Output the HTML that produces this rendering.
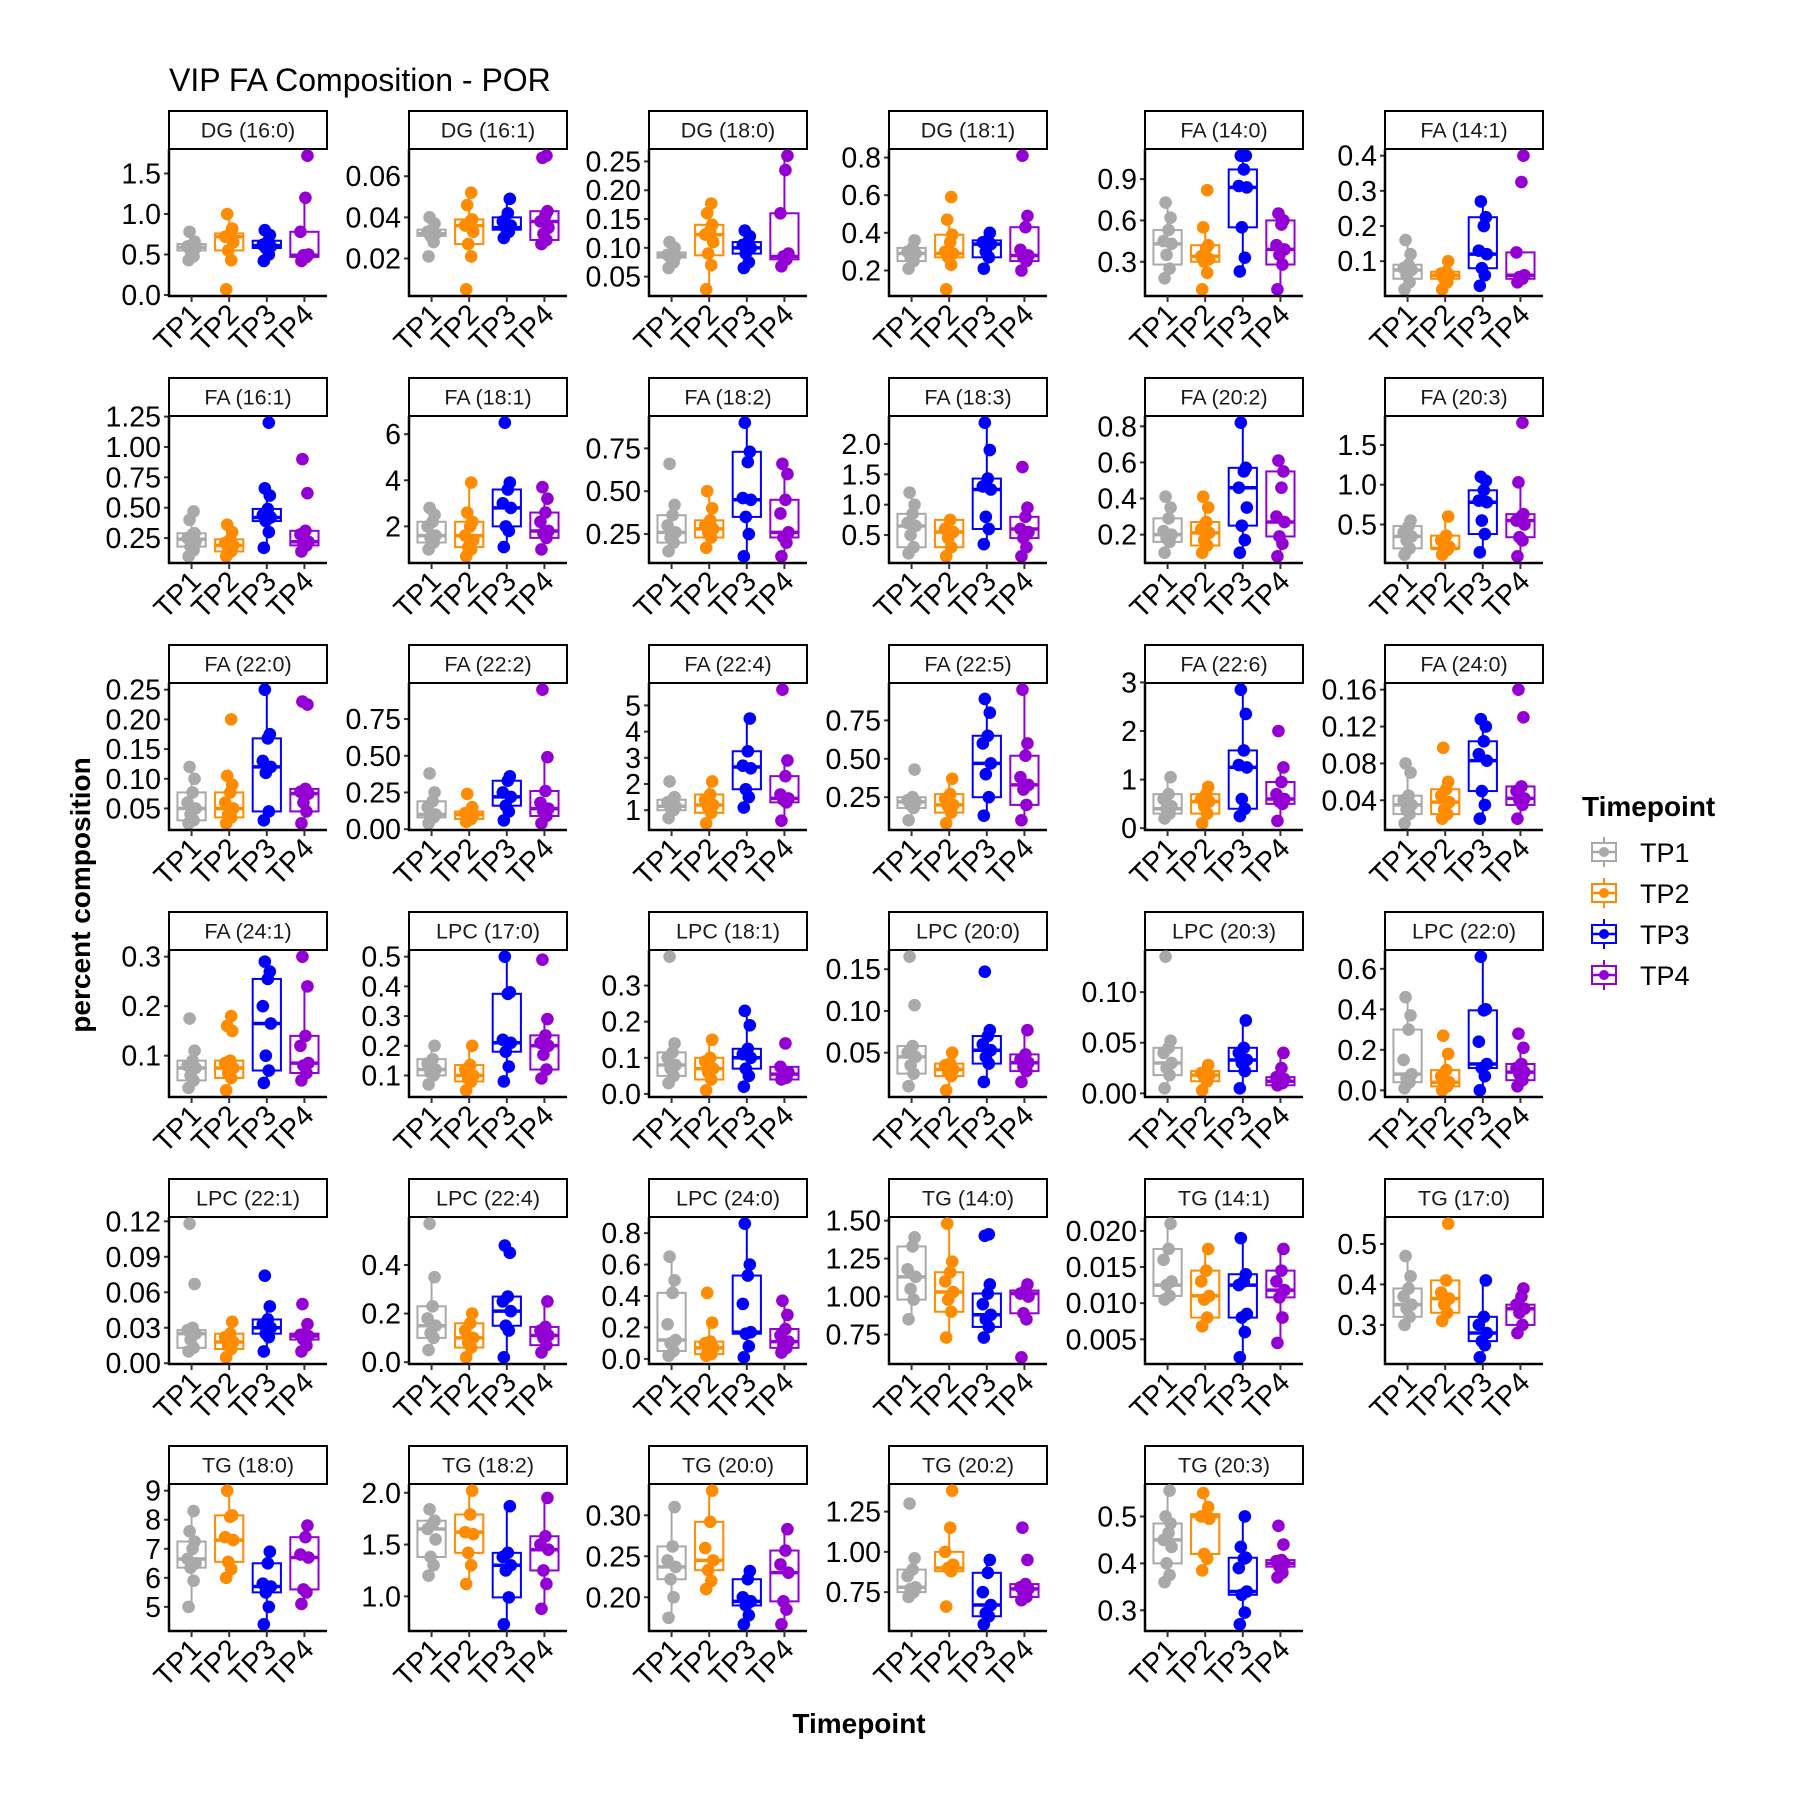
<!DOCTYPE html>
<html><head><meta charset="utf-8">
<style>
html,body{margin:0;padding:0;background:#fff;}
svg text{font-family:"Liberation Sans",Arial,sans-serif;}
</style></head>
<body>
<svg id="chart" width="1800" height="1800" viewBox="0 0 1800 1800" xmlns="http://www.w3.org/2000/svg">
<rect x="0" y="0" width="1800" height="1800" fill="#fff"/>
<text x="169" y="91" font-size="32">VIP FA Composition - POR</text>
<text x="0" y="0" font-size="28" font-weight="bold" text-anchor="middle" transform="translate(90,895) rotate(-90)">percent composition</text>
<text x="859" y="1733" font-size="28" font-weight="bold" text-anchor="middle">Timepoint</text>
<g id="panels"></g>
<g id="legend"></g>
</svg>
<script>
const groups = ["TP1","TP2","TP3","TP4"];
const groupColors = ["#A9A9A9","#FF8C00","#0000FF","#9400D3"];
const panelNames = ["DG (16:0)","DG (16:1)","DG (18:0)","DG (18:1)","FA (14:0)","FA (14:1)",
"FA (16:1)","FA (18:1)","FA (18:2)","FA (18:3)","FA (20:2)","FA (20:3)",
"FA (22:0)","FA (22:2)","FA (22:4)","FA (22:5)","FA (22:6)","FA (24:0)",
"FA (24:1)","LPC (17:0)","LPC (18:1)","LPC (20:0)","LPC (20:3)","LPC (22:0)",
"LPC (22:1)","LPC (22:4)","LPC (24:0)","TG (14:0)","TG (14:1)","TG (17:0)",
"TG (18:0)","TG (18:2)","TG (20:0)","TG (20:2)","TG (20:3)"];
const tickLabels = [
["0.0","0.5","1.0","1.5"],["0.02","0.04","0.06"],["0.05","0.10","0.15","0.20","0.25"],["0.2","0.4","0.6","0.8"],["0.3","0.6","0.9"],["0.1","0.2","0.3","0.4"],
["0.25","0.50","0.75","1.00","1.25"],["2","4","6"],["0.25","0.50","0.75"],["0.5","1.0","1.5","2.0"],["0.2","0.4","0.6","0.8"],["0.5","1.0","1.5"],
["0.05","0.10","0.15","0.20","0.25"],["0.00","0.25","0.50","0.75"],["1","2","3","4","5"],["0.25","0.50","0.75"],["0","1","2","3"],["0.04","0.08","0.12","0.16"],
["0.1","0.2","0.3"],["0.1","0.2","0.3","0.4","0.5"],["0.0","0.1","0.2","0.3"],["0.05","0.10","0.15"],["0.00","0.05","0.10"],["0.0","0.2","0.4","0.6"],
["0.00","0.03","0.06","0.09","0.12"],["0.0","0.2","0.4"],["0.0","0.2","0.4","0.6","0.8"],["0.75","1.00","1.25","1.50"],["0.005","0.010","0.015","0.020"],["0.3","0.4","0.5"],
["5","6","7","8","9"],["1.0","1.5","2.0"],["0.20","0.25","0.30"],["0.75","1.00","1.25"],["0.3","0.4","0.5"]];
// [lower whisker, q1, median, q3, upper whisker] per group
const boxStats = [
[[0.43,0.55,0.59,0.63,0.78],[0.43,0.55,0.72,0.76,1.0],[0.42,0.58,0.61,0.67,0.8],[0.42,0.47,0.49,0.78,1.2]],
[[0.028,0.031,0.032,0.034,0.04],[0.021,0.027,0.036,0.039,0.052],[0.03,0.034,0.035,0.04,0.049],[0.027,0.029,0.038,0.043,0.043]],
[[0.065,0.083,0.087,0.092,0.11],[0.028,0.087,0.123,0.14,0.177],[0.065,0.09,0.1,0.11,0.13],[0.068,0.08,0.085,0.16,0.26]],
[[0.21,0.25,0.29,0.32,0.36],[0.23,0.27,0.29,0.39,0.47],[0.21,0.27,0.34,0.36,0.4],[0.2,0.25,0.28,0.43,0.49]],
[[0.18,0.28,0.43,0.53,0.73],[0.22,0.3,0.34,0.42,0.55],[0.23,0.55,0.84,0.97,1.07],[0.1,0.28,0.39,0.6,0.65]],
[[0.02,0.05,0.075,0.09,0.16],[0.02,0.05,0.06,0.07,0.1],[0.03,0.08,0.12,0.225,0.27],[0.04,0.05,0.06,0.125,0.125]],
[[0.1,0.18,0.24,0.29,0.47],[0.1,0.14,0.19,0.24,0.36],[0.17,0.39,0.42,0.49,0.66],[0.14,0.19,0.22,0.31,0.31]],
[[1.0,1.3,1.6,2.2,2.8],[0.7,1.1,1.6,2.2,3.9],[1.1,2.0,2.8,3.6,3.9],[1.0,1.5,1.8,2.6,3.7]],
[[0.15,0.2,0.26,0.36,0.42],[0.17,0.23,0.28,0.33,0.5],[0.12,0.35,0.45,0.73,0.9],[0.12,0.23,0.26,0.45,0.66]],
[[0.2,0.3,0.65,0.85,1.2],[0.15,0.3,0.55,0.75,0.75],[0.35,0.6,1.25,1.43,2.35],[0.15,0.45,0.6,0.8,0.95]],
[[0.1,0.16,0.2,0.29,0.41],[0.1,0.14,0.21,0.27,0.41],[0.1,0.25,0.46,0.57,0.82],[0.08,0.19,0.27,0.55,0.61]],
[[0.12,0.2,0.35,0.48,0.55],[0.12,0.2,0.2,0.36,0.6],[0.15,0.38,0.78,0.93,1.1],[0.1,0.34,0.55,0.63,1.03]],
[[0.025,0.03,0.05,0.077,0.12],[0.025,0.035,0.05,0.077,0.105],[0.03,0.045,0.12,0.168,0.25],[0.025,0.045,0.075,0.083,0.083]],
[[0.04,0.08,0.1,0.19,0.25],[0.05,0.07,0.1,0.12,0.15],[0.06,0.16,0.22,0.33,0.36],[0.04,0.09,0.14,0.26,0.49]],
[[0.7,1.0,1.15,1.4,1.5],[0.5,0.9,1.2,1.6,2.1],[1.1,1.8,2.65,3.25,4.5],[0.6,1.3,1.45,2.3,2.9]],
[[0.1,0.18,0.22,0.25,0.25],[0.08,0.15,0.2,0.27,0.37],[0.13,0.25,0.47,0.65,0.89],[0.1,0.2,0.33,0.52,0.95]],
[[0.2,0.3,0.4,0.7,1.05],[0.1,0.3,0.55,0.7,0.85],[0.25,0.4,1.25,1.6,2.85],[0.15,0.5,0.6,0.95,1.25]],
[[0.015,0.025,0.035,0.045,0.08],[0.02,0.025,0.038,0.052,0.06],[0.02,0.05,0.083,0.104,0.128],[0.02,0.035,0.042,0.055,0.055]],
[[0.035,0.05,0.075,0.09,0.11],[0.03,0.055,0.075,0.09,0.09],[0.045,0.07,0.165,0.255,0.29],[0.05,0.065,0.085,0.14,0.24]],
[[0.07,0.1,0.12,0.155,0.2],[0.05,0.08,0.1,0.135,0.2],[0.08,0.18,0.21,0.375,0.5],[0.09,0.12,0.2,0.235,0.29]],
[[0.03,0.05,0.08,0.115,0.14],[0.01,0.04,0.07,0.1,0.15],[0.02,0.07,0.1,0.125,0.23],[0.04,0.04,0.055,0.075,0.075]],
[[0.01,0.025,0.045,0.058,0.058],[0.005,0.022,0.03,0.037,0.05],[0.015,0.037,0.053,0.07,0.077],[0.015,0.028,0.038,0.048,0.077]],
[[0.005,0.018,0.03,0.045,0.052],[0.003,0.012,0.018,0.022,0.028],[0.005,0.022,0.033,0.045,0.072],[0.008,0.008,0.012,0.016,0.04]],
[[0.01,0.04,0.08,0.3,0.46],[0.0,0.02,0.04,0.1,0.18],[0.0,0.11,0.13,0.395,0.66],[0.02,0.05,0.09,0.13,0.21]],
[[0.01,0.013,0.025,0.028,0.03],[0.005,0.012,0.018,0.025,0.035],[0.01,0.025,0.03,0.037,0.048],[0.01,0.02,0.023,0.025,0.033]],
[[0.05,0.1,0.15,0.23,0.35],[0.02,0.06,0.1,0.16,0.2],[0.02,0.15,0.21,0.27,0.28],[0.04,0.07,0.11,0.145,0.25]],
[[0.02,0.05,0.12,0.42,0.65],[0.02,0.03,0.07,0.11,0.23],[0.01,0.16,0.17,0.53,0.86],[0.04,0.07,0.11,0.19,0.37]],
[[0.85,0.98,1.13,1.33,1.39],[0.73,0.9,1.03,1.16,1.48],[0.73,0.8,0.88,1.02,1.08],[0.85,0.89,1.02,1.04,1.08]],
[[0.0105,0.011,0.0125,0.0175,0.021],[0.0068,0.008,0.011,0.0145,0.0175],[0.0025,0.008,0.0125,0.014,0.019],[0.0045,0.0108,0.0118,0.0145,0.0175]],
[[0.3,0.32,0.35,0.39,0.47],[0.31,0.33,0.365,0.41,0.41],[0.22,0.26,0.28,0.32,0.41],[0.28,0.3,0.34,0.35,0.39]],
[[5.0,6.35,6.65,7.25,8.3],[6.0,6.55,7.3,8.15,9.0],[4.4,5.5,5.7,6.5,6.9],[5.1,5.6,6.7,7.4,7.8]],
[[1.2,1.38,1.65,1.73,1.84],[1.12,1.42,1.62,1.79,2.02],[0.73,0.99,1.3,1.42,1.87],[0.88,1.25,1.45,1.58,1.95]],
[[0.175,0.222,0.237,0.262,0.31],[0.21,0.233,0.245,0.292,0.33],[0.167,0.19,0.195,0.222,0.232],[0.167,0.195,0.23,0.257,0.283]],
[[0.72,0.75,0.78,0.89,0.96],[0.88,0.88,0.9,1.0,1.15],[0.55,0.6,0.67,0.87,0.95],[0.7,0.72,0.77,0.8,0.8]],
[[0.36,0.4,0.45,0.485,0.555],[0.385,0.42,0.5,0.505,0.55],[0.27,0.333,0.34,0.412,0.5],[0.393,0.393,0.4,0.407,0.407]]];
const points = [
[[0.43,0.48,0.55,0.58,0.6,0.62,0.66,0.78],[0.07,0.43,0.55,0.65,0.72,0.75,0.82,1.0],[0.42,0.5,0.58,0.6,0.62,0.66,0.74,0.8],[0.42,0.47,0.49,0.5,0.78,1.2,1.72]],
[[0.021,0.028,0.031,0.032,0.033,0.034,0.037,0.04],[0.005,0.021,0.027,0.033,0.036,0.038,0.039,0.046,0.052],[0.03,0.033,0.035,0.036,0.038,0.042,0.049],[0.027,0.029,0.032,0.035,0.038,0.041,0.043,0.069,0.07]],
[[0.065,0.075,0.083,0.086,0.088,0.09,0.1,0.11],[0.028,0.07,0.09,0.11,0.123,0.13,0.14,0.16,0.177],[0.065,0.075,0.09,0.1,0.105,0.11,0.12,0.13],[0.068,0.08,0.085,0.09,0.16,0.235,0.26]],
[[0.21,0.25,0.27,0.29,0.3,0.32,0.36],[0.1,0.23,0.27,0.29,0.3,0.35,0.39,0.47,0.59],[0.21,0.27,0.3,0.34,0.35,0.36,0.4],[0.2,0.25,0.27,0.28,0.31,0.43,0.49,0.81]],
[[0.18,0.25,0.35,0.43,0.45,0.53,0.62,0.73],[0.1,0.22,0.3,0.32,0.34,0.4,0.42,0.55,0.82],[0.23,0.33,0.55,0.84,0.85,0.97,1.07,1.07],[0.1,0.28,0.35,0.39,0.42,0.57,0.6,0.65]],
[[0.02,0.04,0.06,0.075,0.08,0.09,0.12,0.16],[0.02,0.04,0.05,0.06,0.065,0.07,0.1],[0.03,0.06,0.08,0.12,0.13,0.2,0.225,0.27],[0.04,0.05,0.055,0.06,0.125,0.325,0.4]],
[[0.1,0.15,0.18,0.22,0.25,0.28,0.29,0.4,0.47],[0.1,0.14,0.17,0.19,0.21,0.24,0.3,0.36],[0.17,0.3,0.39,0.42,0.44,0.49,0.6,0.66,1.2],[0.14,0.19,0.2,0.22,0.28,0.31,0.62,0.9]],
[[1.0,1.3,1.5,1.6,2.0,2.2,2.5,2.8],[0.7,1.0,1.1,1.4,1.6,2.0,2.2,2.6,3.9],[1.1,1.8,2.0,2.8,3.0,3.6,3.9,6.5],[1.0,1.5,1.7,1.8,2.2,2.6,3.2,3.7]],
[[0.15,0.2,0.23,0.26,0.3,0.36,0.42,0.66],[0.17,0.23,0.26,0.28,0.3,0.33,0.4,0.5],[0.12,0.25,0.35,0.45,0.46,0.67,0.73,0.9],[0.12,0.2,0.23,0.26,0.37,0.45,0.6,0.66]],
[[0.2,0.3,0.5,0.65,0.7,0.85,1.0,1.2],[0.15,0.3,0.45,0.55,0.6,0.75],[0.35,0.6,0.8,1.25,1.3,1.43,1.9,2.35],[0.15,0.3,0.45,0.55,0.6,0.8,0.95,1.62]],
[[0.1,0.16,0.18,0.2,0.22,0.29,0.35,0.41],[0.1,0.14,0.17,0.21,0.23,0.27,0.35,0.41],[0.1,0.17,0.25,0.35,0.46,0.55,0.57,0.82],[0.08,0.15,0.19,0.27,0.3,0.46,0.55,0.61]],
[[0.12,0.2,0.3,0.35,0.4,0.48,0.55],[0.12,0.18,0.2,0.22,0.3,0.36,0.6],[0.15,0.38,0.55,0.78,0.8,0.93,1.05,1.1],[0.1,0.3,0.34,0.5,0.55,0.6,0.63,1.03,1.78]],
[[0.025,0.03,0.04,0.05,0.06,0.077,0.1,0.12],[0.025,0.035,0.04,0.05,0.06,0.077,0.09,0.105,0.2],[0.03,0.045,0.11,0.12,0.13,0.168,0.175,0.25],[0.025,0.045,0.06,0.075,0.078,0.083,0.225,0.23]],
[[0.04,0.08,0.09,0.1,0.15,0.19,0.25,0.38],[0.05,0.07,0.09,0.1,0.11,0.12,0.15,0.24],[0.06,0.12,0.16,0.22,0.25,0.33,0.36],[0.04,0.09,0.12,0.14,0.18,0.26,0.49,0.95]],
[[0.7,1.0,1.1,1.15,1.3,1.4,1.5,2.1],[0.5,0.9,1.1,1.2,1.4,1.6,2.1],[1.1,1.5,1.8,2.6,2.7,3.25,4.5],[0.6,1.3,1.4,1.45,1.6,2.3,2.9,5.6]],
[[0.1,0.18,0.2,0.22,0.23,0.25,0.43],[0.08,0.15,0.19,0.2,0.24,0.27,0.37],[0.13,0.25,0.4,0.47,0.6,0.65,0.8,0.89],[0.1,0.2,0.3,0.33,0.38,0.52,0.6,0.95]],
[[0.2,0.3,0.4,0.45,0.6,0.7,1.05],[0.1,0.3,0.45,0.55,0.6,0.7,0.85],[0.25,0.4,0.6,1.25,1.3,1.6,2.35,2.85],[0.15,0.5,0.55,0.6,0.7,0.95,1.25,2.0]],
[[0.015,0.025,0.03,0.035,0.04,0.045,0.07,0.08],[0.02,0.025,0.03,0.038,0.045,0.052,0.06,0.097],[0.02,0.035,0.05,0.083,0.09,0.104,0.12,0.128],[0.02,0.035,0.04,0.042,0.05,0.055,0.13,0.16]],
[[0.035,0.05,0.06,0.075,0.08,0.09,0.11,0.175],[0.03,0.055,0.065,0.075,0.085,0.09,0.15,0.16,0.18],[0.045,0.07,0.1,0.165,0.2,0.255,0.27,0.29],[0.05,0.065,0.08,0.085,0.12,0.14,0.24,0.3]],
[[0.07,0.1,0.11,0.12,0.14,0.155,0.2],[0.05,0.08,0.09,0.1,0.12,0.135,0.2],[0.08,0.13,0.18,0.21,0.22,0.375,0.38,0.5],[0.09,0.12,0.17,0.2,0.21,0.235,0.29,0.49]],
[[0.03,0.05,0.07,0.08,0.1,0.115,0.14,0.38],[0.01,0.04,0.06,0.07,0.09,0.1,0.15],[0.02,0.05,0.07,0.1,0.11,0.125,0.19,0.23],[0.04,0.045,0.055,0.06,0.075,0.14]],
[[0.01,0.025,0.035,0.045,0.05,0.058,0.107,0.165],[0.005,0.022,0.027,0.03,0.035,0.037,0.05],[0.015,0.037,0.045,0.053,0.06,0.07,0.077,0.147],[0.015,0.028,0.033,0.038,0.042,0.048,0.077]],
[[0.005,0.018,0.025,0.03,0.04,0.045,0.052,0.135],[0.003,0.012,0.016,0.018,0.02,0.022,0.028],[0.005,0.022,0.03,0.033,0.04,0.045,0.072],[0.008,0.01,0.012,0.014,0.016,0.025,0.04]],
[[0.01,0.04,0.06,0.08,0.15,0.3,0.37,0.46],[0.0,0.02,0.03,0.04,0.07,0.1,0.18,0.27],[0.0,0.07,0.11,0.13,0.24,0.395,0.4,0.66],[0.02,0.05,0.08,0.09,0.11,0.13,0.21,0.28]],
[[0.01,0.013,0.02,0.025,0.028,0.03,0.067,0.118],[0.005,0.012,0.015,0.018,0.022,0.025,0.035],[0.01,0.022,0.025,0.03,0.033,0.037,0.048,0.074],[0.01,0.015,0.02,0.023,0.024,0.025,0.033,0.05]],
[[0.05,0.1,0.12,0.15,0.18,0.23,0.35,0.57],[0.02,0.06,0.08,0.1,0.13,0.16,0.2],[0.02,0.13,0.15,0.21,0.25,0.27,0.45,0.48],[0.04,0.07,0.1,0.11,0.13,0.145,0.25]],
[[0.02,0.05,0.1,0.12,0.22,0.42,0.5,0.65],[0.02,0.03,0.05,0.07,0.1,0.11,0.23,0.42],[0.01,0.08,0.16,0.17,0.35,0.53,0.6,0.86],[0.04,0.07,0.09,0.11,0.15,0.19,0.28,0.37]],
[[0.85,0.98,1.05,1.13,1.18,1.33,1.39],[0.73,0.9,0.98,1.03,1.1,1.16,1.23,1.48],[0.73,0.8,0.85,0.88,0.95,1.02,1.08,1.4,1.41],[0.6,0.85,0.89,1.0,1.02,1.04,1.08]],
[[0.0105,0.011,0.0125,0.013,0.016,0.0175,0.021],[0.0068,0.008,0.0105,0.011,0.013,0.0145,0.0175],[0.0025,0.006,0.008,0.0085,0.0125,0.013,0.014,0.019],[0.0045,0.008,0.0108,0.0118,0.013,0.0145,0.0175]],
[[0.3,0.32,0.34,0.35,0.37,0.39,0.42,0.47],[0.31,0.33,0.35,0.365,0.38,0.41,0.55],[0.22,0.25,0.26,0.28,0.3,0.32,0.41],[0.28,0.3,0.33,0.34,0.35,0.37,0.39]],
[[5.0,5.9,6.35,6.5,6.65,7.0,7.25,7.6,8.3],[6.0,6.3,6.55,7.3,7.4,8.1,8.15,9.0],[4.4,5.0,5.5,5.7,5.8,6.5,6.9],[5.1,5.5,5.6,6.7,6.8,7.4,7.8]],
[[1.2,1.3,1.38,1.55,1.65,1.7,1.73,1.84],[1.12,1.3,1.42,1.6,1.62,1.79,2.02],[0.73,0.99,1.25,1.3,1.38,1.42,1.87],[0.88,1.12,1.25,1.45,1.5,1.58,1.95]],
[[0.175,0.2,0.222,0.237,0.245,0.262,0.31],[0.21,0.22,0.233,0.245,0.26,0.292,0.33],[0.167,0.178,0.19,0.195,0.2,0.222,0.232],[0.167,0.185,0.195,0.23,0.24,0.257,0.283]],
[[0.72,0.75,0.77,0.78,0.85,0.89,0.96,1.3],[0.66,0.88,0.9,0.92,1.0,1.15,1.38],[0.55,0.6,0.62,0.67,0.75,0.87,0.95],[0.7,0.72,0.75,0.77,0.78,0.8,0.95,1.15]],
[[0.36,0.375,0.4,0.435,0.45,0.465,0.485,0.5,0.555],[0.385,0.41,0.42,0.495,0.5,0.505,0.52,0.55],[0.27,0.295,0.333,0.34,0.39,0.41,0.412,0.435,0.5],[0.37,0.38,0.393,0.4,0.405,0.407,0.44,0.48]]];

const NS = "http://www.w3.org/2000/svg";
const colLeft = [169,409,649,889,1145,1385];
const PW = 158, STRIP_H = 38, PH = 147, ROW0 = 111, ROW_PITCH = 267;
const jit = [-3,2,-1,4,-4,1,3,-2,2,-2,0];
function mk(tag, attrs, parent){
  const e = document.createElementNS(NS, tag);
  for (const k in attrs) e.setAttribute(k, attrs[k]);
  parent.appendChild(e);
  return e;
}
const root = document.getElementById("panels");
panelNames.forEach((name, p) => {
  const r = Math.floor(p/6), c = p%6;
  const x0 = colLeft[c], sy = ROW0 + r*ROW_PITCH, y0 = sy + STRIP_H, y1 = y0 + PH;
  const g = mk("g", {}, root);
  
  
  let lo = Infinity, hi = -Infinity;
  points[p].forEach(a => a.forEach(v => { lo = Math.min(lo, v); hi = Math.max(hi, v); }));
  boxStats[p].forEach(a => a.forEach(v => { lo = Math.min(lo, v); hi = Math.max(hi, v); }));
  const pad = (hi - lo) * 0.05; lo -= pad; hi += pad;
  const ys = v => y1 - (v - lo) / (hi - lo) * PH;
  const xs = i => x0 + (i + 0.6) * PW / 4.2;
  const bw = 0.75 * PW / 4.2;
  const st = mk("rect", {x:x0, y:sy, width:PW, height:STRIP_H, fill:"#fff", stroke:"#000", "stroke-width":2}, g);
  
  
  const stt = mk("text", {x:x0+PW/2, y:sy+26.5, "font-size":21.5, "text-anchor":"middle", fill:"#1a1a1a"}, g);
  stt.textContent = name;
  
  
  tickLabels[p].forEach(t => {
    const v = parseFloat(t), y = ys(v);
    if (y < y0 - 2 || y > y1 + 2) return;
    mk("line", {x1:x0-5, x2:x0, y1:y, y2:y, stroke:"#333", "stroke-width":2}, g);
    const tt = mk("text", {x:x0-8, y:y+10, "font-size":28.5, "text-anchor":"end", fill:"#000"}, g);
    tt.textContent = t;
    
    
  });
  groups.forEach((gname, i) => {
    const s = boxStats[p][i], col = groupColors[i], cx = xs(i);
    const bg = mk("g", {}, g);
    
    
    mk("line", {x1:cx, x2:cx, y1:ys(s[0]), y2:ys(s[1]), stroke:col, "stroke-width":2}, bg);
    mk("line", {x1:cx, x2:cx, y1:ys(s[3]), y2:ys(s[4]), stroke:col, "stroke-width":2}, bg);
    mk("rect", {x:cx-bw/2, y:ys(s[3]), width:bw, height:Math.max(0.5, ys(s[1])-ys(s[3])), fill:"#fff", stroke:col, "stroke-width":2}, bg);
    mk("line", {x1:cx-bw/2, x2:cx+bw/2, y1:ys(s[2]), y2:ys(s[2]), stroke:col, "stroke-width":3.5}, bg);
  });
  groups.forEach((gname, i) => {
    const col = groupColors[i], cx = xs(i);
    points[p][i].forEach((v, k) => {
      const d = mk("circle", {cx:cx + jit[k % jit.length], cy:ys(v), r:6.3, fill:col}, g);
      
      
    });
  });
  mk("line", {x1:x0, x2:x0, y1:y0, y2:y1+1, stroke:"#000", "stroke-width":2.5}, g);
  mk("line", {x1:x0-1, x2:x0+PW, y1:y1, y2:y1, stroke:"#000", "stroke-width":2.5}, g);
  groups.forEach((gname, i) => {
    const cx = xs(i);
    mk("line", {x1:cx, x2:cx, y1:y1, y2:y1+6, stroke:"#333", "stroke-width":2}, g);
    const xt = mk("text", {x:0, y:0, "font-size":28.5, "text-anchor":"end", fill:"#000", transform:"translate(" + (cx+11) + "," + (y1+20) + ") rotate(-45)"}, g);
    xt.textContent = gname;
    
    
  });
});
const lg = document.getElementById("legend");
const lt = mk("text", {x:1582, y:816, "font-size":28, "font-weight":"bold"}, lg);
lt.textContent = "Timepoint";


groups.forEach((gname, i) => {
  const cy = 852 + i*41, col = groupColors[i];
  const e = mk("g", {}, lg);
  
  
  mk("line", {x1:1604, x2:1604, y1:cy-15, y2:cy+15, stroke:col, "stroke-width":2}, e);
  mk("rect", {x:1592, y:cy-9, width:24, height:18, fill:"#fff", stroke:col, "stroke-width":2}, e);
  mk("line", {x1:1592, x2:1616, y1:cy, y2:cy, stroke:col, "stroke-width":2.5}, e);
  mk("circle", {cx:1604, cy:cy, r:5, fill:col}, e);
  const t = mk("text", {x:1640, y:cy+10, "font-size":27}, e);
  t.textContent = gname;
});
</script>
</body></html>
